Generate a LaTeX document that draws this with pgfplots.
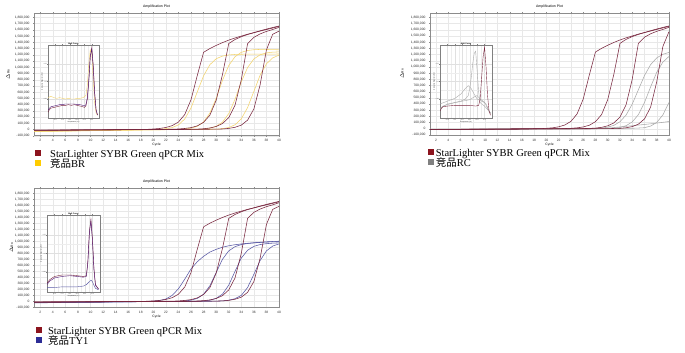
\documentclass[border=0pt]{standalone}
\usepackage{fontspec}
\setmainfont{Liberation Sans}
\newfontfamily\seriffont{Liberation Serif}
\newfontfamily\cjk{Noto Sans CJK SC}
\usepackage{pgfplots}
\usepackage{pgfplotstable}
\pgfplotsset{compat=1.18}

\definecolor{starc}{RGB}{120,38,62}
\definecolor{starleg}{RGB}{140,20,30}
\definecolor{brc}{RGB}{243,212,110}
\definecolor{brleg}{RGB}{255,204,0}
\definecolor{rcc}{RGB}{170,170,170}
\definecolor{rcleg}{RGB}{128,128,128}
\definecolor{tyc}{RGB}{88,88,165}
\definecolor{tyleg}{RGB}{45,45,150}

\newcommand\sqimg[2]{\addlegendimage{legend image code/.code={\fill[#1, draw=none] (0pt,-1.2pt) rectangle (6pt,4.8pt); \path[draw=none, fill=none] (0pt,0pt) -- (#2,0pt);}}}

\pgfplotsset{
 every axis title shift=0pt,
 mainax/.style={
  scale only axis, anchor=south west,
  xmin=1, xmax=40, ymin=-100000,
  xtick={2,4,...,40}, ytick={-100000,0,...,1800000},
  scaled y ticks=false,
  grid=major, major grid style={draw=black!9, line width=0.3pt},
  axis line style={draw=black!45, line width=0.4pt},
  tick style={draw=black!45, line width=0.3pt},
  major tick length=1pt, tick align=outside,
  ticklabel style={font=\fontsize{3.3}{3.6}\selectfont, text=black!80, /pgf/number format/assume math mode=true},
  xticklabel style={yshift=0.6pt},
  yticklabel style={/pgf/number format/.cd, fixed, 1000 sep={,}, assume math mode=true},
  title={Amplification Plot},
  title style={font=\fontsize{3.5}{4}\selectfont, inner sep=0pt, at={(axis description cs:0.5,1.054)}, anchor=center},
  xlabel={Cycle},
  xlabel style={font=\fontsize{3.3}{3.6}\selectfont, inner sep=0pt, at={(axis description cs:0.5,-0.076)}, anchor=center},
  ylabel={$\Delta$Rn},
  ylabel style={font=\fontsize{3.3}{3.6}\selectfont, inner sep=0pt, anchor=center},
  every axis plot/.append style={line width=0.55pt},
  legend style={draw=none, fill=none, anchor=north west, inner sep=0pt, row sep=0.4pt,
    font=\fontsize{10.5}{12}\selectfont\seriffont,
    nodes={inner sep=0pt, text height=7.5pt, text depth=2.5pt}},
  legend cell align=left,
 },
 meltax/.style={
  scale only axis, anchor=south west,
  xmin=60, xmax=95, ymin=-0.02, ymax=1.02,
  axis background/.style={fill=white},
  grid=both, major grid style={draw=black!12, line width=0.2pt},
  minor grid style={draw=black!7, line width=0.15pt},
  minor x tick num=1, minor y tick num=1,
  xtick={65,70,...,90}, ytick={0.25,0.5,0.75},
  axis line style={draw=black!50, line width=0.3pt},
  tick style={draw=black!50, line width=0.2pt},
  major tick length=0.7pt, minor tick length=0pt, tick align=outside,
  ticklabel style={font=\fontsize{1.5}{1.7}\selectfont, text=black!70, inner sep=0.4pt},
  yticklabel style={/pgf/number format/.cd, fixed, precision=2, assume math mode=true},
  xticklabel style={/pgf/number format/.cd, fixed, precision=1, zerofill, assume math mode=true},
  title={\textbf{Melt Curve}}, title style={font=\fontsize{2}{2.4}\selectfont, inner sep=0.6pt},
  xlabel={Temperature (°C)}, xlabel style={font=\fontsize{1.5}{1.7}\selectfont, inner sep=0.3pt},
  ylabel={Derivative Reporter (-Rn')}, ylabel style={font=\fontsize{1.5}{1.7}\selectfont, inner sep=0.3pt},
  every axis plot/.append style={line width=0.4pt},
 },
}

\pgfplotstableread{
c v
1 -12e3
5 -10e3
10 -7e3
15 -3e3
19 2e3
20 8e3
21 16e3
22 32e3
23 62e3
24 120e3
25 240e3
26 480e3
27 870e3
28 1240e3
29 1300e3
30 1350e3
31 1395e3
32 1435e3
33 1470e3
34 1500e3
35 1530e3
36 1555e3
37 1580e3
38 1605e3
39 1630e3
40 1655e3
}\starA
\pgfplotstableread{
c v
1 -10e3
5 -9e3
10 -6e3
15 -3e3
20 0
23 4e3
24 8e3
25 16e3
26 30e3
27 58e3
28 115e3
29 230e3
30 470e3
31 880e3
32 1380e3
33 1445e3
34 1490e3
35 1525e3
36 1555e3
37 1585e3
38 1612e3
39 1638e3
40 1662e3
}\starB
\pgfplotstableread{
c v
1 -14e3
5 -12e3
10 -8e3
15 -4e3
20 -1e3
25 2e3
27 6e3
28 12e3
29 24e3
30 48e3
31 95e3
32 190e3
33 390e3
34 800e3
35 1380e3
36 1480e3
37 1535e3
38 1575e3
39 1605e3
40 1640e3
}\starC
\pgfplotstableread{
c v
1 -11e3
5 -10e3
10 -7e3
15 -4e3
20 -2e3
25 0
28 3e3
30 5e3
31 8e3
32 17e3
33 35e3
34 70e3
35 150e3
36 330e3
37 720e3
38 1280e3
39 1530e3
40 1580e3
}\starD
\pgfplotstableread{
c v
1 -9e3
5 -8e3
10 -6e3
15 -3e3
20 -1e3
25 0
30 3e3
32 8e3
33 17e3
34 35e3
35 75e3
36 160e3
37 350e3
38 760e3
39 1330e3
40 1570e3
}\starDb

\begin{document}
\begin{tikzpicture}
\path[use as bounding box, fill=white] (0,0) rectangle (685pt,353pt);

% ---------------- Panel 1: BR ----------------
\begin{axis}[mainax, at={(34pt,217.3pt)}, width=245pt, height=122.4pt, ymax=1866000,
  ylabel style={at={(axis description cs:-0.106,0.5)}},
  legend style={at={(axis description cs:0.004,-0.112)}}]
\sqimg{starleg}{15pt}
\sqimg{brleg}{15pt}
\addplot[brc] coordinates {(1,-30e3)(5,-25e3)(10,-18e3)(15,-10e3)(19,-3e3)(20,0)(21,5e3)(22,13e3)(23,31e3)(24,74e3)(25,169e3)(26,347e3)(27,605e3)(28,863e3)(29,1041e3)(30,1136e3)(31,1179e3)(32,1197e3)(33,1205e3)(34,1208e3)(35,1210e3)(40,1212e3)};
\addplot[brc] coordinates {(1,-28e3)(5,-24e3)(10,-17e3)(15,-10e3)(20,-4e3)(23,0)(24,3e3)(25,9e3)(26,21e3)(27,51e3)(28,121e3)(29,263e3)(30,501e3)(31,789e3)(32,1027e3)(33,1169e3)(34,1239e3)(35,1269e3)(36,1281e3)(37,1286e3)(38,1285e3)(39,1282e3)(40,1280e3)};
\addplot[brc] coordinates {(1,-32e3)(5,-27e3)(10,-20e3)(15,-12e3)(20,-6e3)(25,-1e3)(27,3e3)(28,8e3)(29,21e3)(30,50e3)(31,117e3)(32,255e3)(33,485e3)(34,765e3)(35,995e3)(36,1133e3)(37,1200e3)(38,1230e3)(39,1242e3)(40,1246e3)};
\addplot[brc] coordinates {(1,-26e3)(5,-22e3)(10,-16e3)(15,-10e3)(20,-5e3)(25,-1e3)(28,1e3)(30,5e3)(31,13e3)(32,31e3)(33,75e3)(34,171e3)(35,352e3)(36,612e3)(37,873e3)(38,1054e3)(39,1150e3)(40,1194e3)};
\addplot[starc] table {\starA};
\addplot[starc] table {\starB};
\addplot[starc] table {\starC};
\addplot[starc] table {\starD};
\legend{StarLighter SYBR Green qPCR Mix, {{\cjk 竞品}BR}}
\end{axis}
\begin{axis}[meltax, at={(48pt,235pt)}, width=51pt, height=73pt]
\addplot[brc] coordinates {(60,0.27)(62,0.29)(64,0.27)(66,0.26)(68,0.27)(70,0.26)(72,0.25)(74,0.26)(76,0.25)(78,0.25)(80,0.26)(82,0.26)(84,0.27)(86,0.30)(87,0.45)(88,0.75)(89,0.95)(90,0.90)(91,0.55)(92,0.20)(93,0.05)(94,0.02)};
\addplot[starc] coordinates {(60,0.06)(61,0.10)(62,0.12)(64,0.13)(66,0.14)(68,0.15)(70,0.16)(72,0.16)(74,0.17)(76,0.16)(78,0.17)(80,0.16)(82,0.15)(84,0.14)(85,0.13)(86,0.15)(87,0.25)(88,0.50)(89,0.85)(90,0.98)(91,0.75)(92,0.35)(93,0.10)(94,0.02)};
\addplot[starc!70!blue] coordinates {(60,0.09)(61,0.12)(62,0.14)(64,0.15)(66,0.16)(68,0.17)(70,0.17)(72,0.18)(74,0.18)(76,0.18)(78,0.18)(80,0.17)(82,0.17)(84,0.16)(85,0.15)(86,0.17)(87,0.27)(88,0.52)(89,0.86)(90,0.96)(91,0.72)(92,0.33)(93,0.09)(94,0.02)};
\end{axis}

% ---------------- Panel 2: RC ----------------
\begin{axis}[mainax, at={(430pt,218pt)}, width=239pt, height=122pt, ymax=1871000,
  ylabel style={at={(axis description cs:-0.118,0.5)}},
  legend style={at={(axis description cs:-0.01,-0.112)}}]
\sqimg{starleg}{8pt}
\sqimg{rcleg}{8pt}
\addplot[rcc] coordinates {(1,-6e3)(10,-4e3)(20,-1e3)(26,2e3)(28,6e3)(29,12e3)(30,26e3)(31,56e3)(32,114e3)(33,223e3)(34,399e3)(35,630e3)(36,861e3)(37,1037e3)(38,1146e3)(39,1204e3)(40,1234e3)};
\addplot[rcc] coordinates {(1,-5e3)(10,-3e3)(20,-1e3)(28,1e3)(30,4e3)(31,10e3)(32,22e3)(33,51e3)(34,111e3)(35,228e3)(36,424e3)(37,677e3)(38,914e3)(39,1078e3)(40,1169e3)};
\addplot[rcc] coordinates {(1,-8e3)(10,-5e3)(20,-2e3)(30,2e3)(34,8e3)(35,12e3)(36,18e3)(37,44e3)(38,103e3)(39,224e3)(40,427e3)};
\addplot[rcc] coordinates {(1,-6e3)(10,-4e3)(20,-2e3)(26,0)(28,4e3)(30,10e3)(32,30e3)(34,50e3)(36,70e3)(38,92e3)(40,118e3)};
\addplot[starc] table {\starA};
\addplot[starc] table {\starB};
\addplot[starc] table {\starC};
\addplot[starc] table {\starDb};
\legend{StarLighter SYBR Green qPCR Mix, {{\cjk 竞品}RC}}
\end{axis}
\begin{axis}[meltax, at={(440pt,235pt)}, width=52pt, height=73pt]
\addplot[rcc] coordinates {(60,0.10)(62,0.15)(65,0.17)(70,0.20)(74,0.22)(77,0.25)(79,0.30)(80,0.40)(81,0.55)(82,0.75)(83,0.90)(84,0.93)(85,0.65)(86,0.35)(87,0.20)(88,0.18)(90,0.15)(92,0.10)(94,0.05)};
\addplot[rcc] coordinates {(60,0.18)(65,0.22)(70,0.26)(74,0.32)(77,0.40)(79,0.44)(81,0.40)(83,0.32)(85,0.25)(88,0.22)(90,0.20)(92,0.12)(94,0.05)};
\addplot[rcc] coordinates {(60,0.12)(65,0.18)(70,0.20)(75,0.22)(80,0.24)(83,0.28)(85,0.30)(87,0.25)(89,0.22)(91,0.18)(93,0.08)(94,0.04)};
\addplot[starc] coordinates {(60,0.08)(61,0.12)(62,0.14)(65,0.15)(70,0.16)(75,0.16)(80,0.16)(84,0.15)(86,0.16)(87,0.25)(88,0.55)(89,0.85)(90,0.99)(91,0.70)(92,0.30)(93,0.08)(94,0.02)};
\end{axis}

% ---------------- Panel 3: TY1 ----------------
\begin{axis}[mainax, at={(34pt,45.6pt)}, width=245pt, height=119.1pt, ymax=1880000,
  ylabel style={at={(axis description cs:-0.092,0.5)}},
  legend style={at={(axis description cs:0.008,-0.16)}}]
\sqimg{starleg}{12pt}
\sqimg{tyleg}{12pt}
\addplot[tyc] coordinates {(1,-22e3)(5,-18e3)(10,-12e3)(15,-6e3)(19,0)(20,5e3)(21,15e3)(22,40e3)(23,100e3)(24,210e3)(25,370e3)(26,540e3)(27,660e3)(28,750e3)(29,820e3)(30,865e3)(31,900e3)(32,925e3)(33,942e3)(34,955e3)(35,966e3)(36,975e3)(37,983e3)(38,990e3)(39,996e3)(40,1000e3)};
\addplot[tyc] coordinates {(1,-25e3)(5,-20e3)(10,-14e3)(15,-8e3)(20,-3e3)(24,0)(25,8e3)(26,20e3)(27,50e3)(28,120e3)(29,260e3)(30,480e3)(31,700e3)(32,840e3)(33,910e3)(34,945e3)(35,962e3)(36,972e3)(37,980e3)(38,986e3)(39,990e3)(40,993e3)};
\addplot[tyc] coordinates {(1,-20e3)(5,-17e3)(10,-12e3)(15,-7e3)(20,-3e3)(25,0)(27,3e3)(28,8e3)(29,20e3)(30,50e3)(31,120e3)(32,270e3)(33,500e3)(34,720e3)(35,850e3)(36,915e3)(37,945e3)(38,960e3)(39,968e3)(40,972e3)};
\addplot[tyc] coordinates {(1,-18e3)(5,-15e3)(10,-11e3)(15,-7e3)(20,-4e3)(25,-1e3)(29,2e3)(30,4e3)(31,8e3)(32,20e3)(33,45e3)(34,100e3)(35,230e3)(36,450e3)(37,680e3)(38,840e3)(39,920e3)(40,955e3)};
\addplot[starc] table {\starA};
\addplot[starc] table {\starB};
\addplot[starc] table {\starC};
\addplot[starc] table {\starD};
\legend{StarLighter SYBR Green qPCR Mix, {{\cjk 竞品}TY1}}
\end{axis}
\begin{axis}[meltax, at={(47pt,61pt)}, width=53pt, height=77pt]
\addplot[tyc] coordinates {(60,0.04)(65,0.04)(70,0.05)(75,0.05)(80,0.05)(84,0.06)(86,0.08)(88,0.12)(89,0.14)(90,0.12)(91,0.07)(92,0.03)(94,0.01)};
\addplot[starc] coordinates {(60,0.10)(62,0.15)(65,0.19)(70,0.21)(75,0.21)(80,0.20)(84,0.19)(86,0.20)(87,0.40)(88,0.80)(89,0.96)(90,0.70)(91,0.30)(92,0.08)(94,0.02)};
\addplot[starc!70!blue] coordinates {(60,0.08)(62,0.13)(65,0.17)(70,0.19)(75,0.20)(80,0.19)(84,0.18)(86,0.19)(87,0.38)(88,0.78)(89,0.94)(90,0.68)(91,0.28)(92,0.07)(94,0.02)};
\end{axis}
\end{tikzpicture}
\end{document}
